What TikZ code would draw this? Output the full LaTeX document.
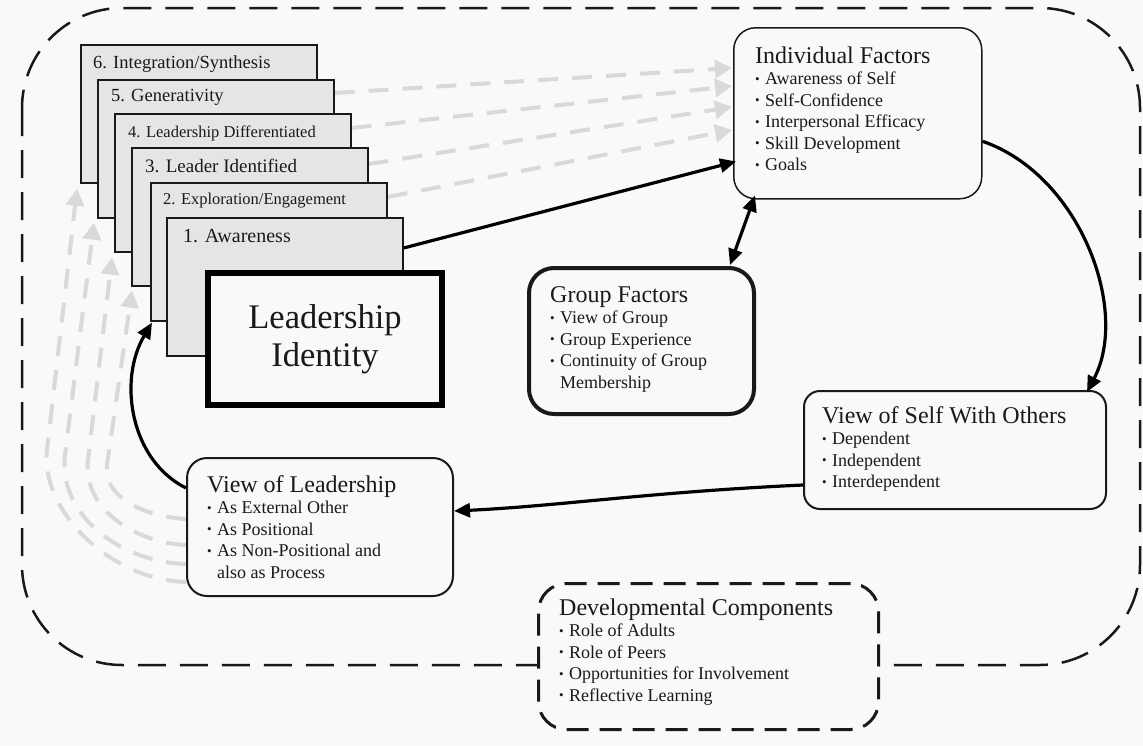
\documentclass[tikz,border=0pt]{standalone}
\usepackage{fontspec}
\setmainfont{Liberation Serif}
\usetikzlibrary{arrows.meta,calc,backgrounds}

\definecolor{paper}{gray}{0.975}
\definecolor{cardfill}{gray}{0.9}
\definecolor{ghostc}{gray}{0.85}
\definecolor{ink}{gray}{0.1}

% small raised bullet and matching hanging indent
\newcommand\bul{\makebox[10pt][l]{\raisebox{1.5pt}{\fontsize{13}{13}\selectfont •}}}
\newcommand\cont{\hspace*{10pt}}
\newcommand\ttl[1]{{\fontsize{24}{21.5}\selectfont #1}}

\begin{document}
\begin{tikzpicture}[x=1pt,y=-1pt,
  card/.style={draw=ink, line width=1.6pt, fill=cardfill, minimum width=236pt,
    minimum height=138pt, anchor=north west, inner sep=0pt},
  cardlabel/.style={anchor=base west, inner sep=0pt, text=ink},
  panel/.style={draw=ink, fill=paper, anchor=north west, inner sep=0pt},
  boxtext/.style={anchor=base west, inner sep=0pt, text=ink,
    font=\fontsize{18}{21.5}\selectfont},
  flow/.style={line width=3.2pt, draw=black,
    -{Triangle[length=16pt,width=14pt]}},
  ghost/.style={draw=ghostc, line width=4pt, dash pattern=on 20pt off 14pt,
    -{Triangle[length=17pt,width=18pt,fill=ghostc]}},
  frame/.style={draw=ink, line width=2.5pt, dash pattern=on 28pt off 14pt,
    rounded corners=100pt}
]
\useasboundingbox (0,0) rectangle (1143,745);
\begin{scope}[on background layer]
  \fill[paper] (0,0) rectangle (1143,745);
\end{scope}

% outer dashed frame
\draw[frame] (22,8) rectangle (1140,665);

% stacked stage cards, back to front
\node[card] (c6) at (80,44) {};
\node[cardlabel, font=\fontsize{18.5}{20}\selectfont] (l6) at ($(c6.north west)+(13,24)$) {6. Integration/Synthesis};
\node[card] (c5) at (97,79) {};
\node[cardlabel, font=\fontsize{18.5}{20}\selectfont] (l5) at ($(c5.north west)+(14,22)$) {5. Generativity};
\node[card] (c4) at (114,113) {};
\node[cardlabel, font=\fontsize{16.5}{20}\selectfont] (l4) at ($(c4.north west)+(14,24)$) {4. Leadership Differentiated};
\node[card] (c3) at (131,147) {};
\node[cardlabel, font=\fontsize{19}{20}\selectfont] (l3) at ($(c3.north west)+(14,25)$) {3. Leader Identified};
\node[card] (c2) at (150,182) {};
\node[cardlabel, font=\fontsize{16.5}{20}\selectfont] (l2) at ($(c2.north west)+(13,22)$) {2. Exploration/Engagement};
\node[card] (c1) at (166,217) {};
\node[cardlabel, font=\fontsize{20}{20}\selectfont] (l1) at ($(c1.north west)+(17,25)$) {1. Awareness};

% central identity box
\node[draw=black, line width=6pt, fill=paper, anchor=north west, inner sep=0pt,
  minimum width=234pt, minimum height=132pt, align=center, text=ink,
  font=\fontsize{34.5}{38}\selectfont] (lid) at (205,270) {Leadership\\Identity};

% factor panels
\node[panel, line width=1.5pt, rounded corners=22pt, minimum width=248pt, minimum height=171pt] (indiv) at (733,27) {};
\node[boxtext] (indivtxt) at ($(indiv.north west)+(22,36)$) {\begin{tabular}[t]{@{}l@{}}\ttl{Individual Factors}\\\bul Awareness of Self\\\bul Self-Confidence\\\bul Interpersonal Efficacy\\\bul Skill Development\\\bul Goals\end{tabular}};

\node[panel, line width=4pt, rounded corners=25pt, minimum width=225pt, minimum height=146pt] (group) at (527,266) {};
\node[boxtext] (grouptxt) at ($(group.north west)+(23,36)$) {\begin{tabular}[t]{@{}l@{}}\ttl{Group Factors}\\\bul View of Group\\\bul Group Experience\\\bul Continuity of Group\\\cont Membership\end{tabular}};

\node[panel, line width=2pt, rounded corners=16pt, minimum width=302pt, minimum height=118pt] (vself) at (803,390) {};
\node[boxtext] (vselftxt) at ($(vself.north west)+(19,33)$) {\begin{tabular}[t]{@{}l@{}}\ttl{View of Self With Others}\\\bul Dependent\\\bul Independent\\\bul Interdependent\end{tabular}};

\node[panel, line width=2pt, rounded corners=20pt, minimum width=266pt, minimum height=138pt] (vlead) at (186,457) {};
\node[boxtext] (vleadtxt) at ($(vlead.north west)+(21,35)$) {\begin{tabular}[t]{@{}l@{}}\ttl{View of Leadership}\\\bul As External Other\\\bul As Positional\\\bul As Non-Positional and\\\cont also as Process\end{tabular}};

\node[panel, line width=3pt, dash pattern=on 22pt off 11pt, rounded corners=28pt, minimum width=340pt, minimum height=146pt] (devel) at (537,582) {};
\node[boxtext] (develtxt) at ($(devel.north west)+(22,33)$) {\begin{tabular}[t]{@{}l@{}}\ttl{Developmental Components}\\\bul Role of Adults\\\bul Role of Peers\\\bul Opportunities for Involvement\\\bul Reflective Learning\end{tabular}};

% faint recurring arrows: stages toward individual factors
\begin{scope}[on background layer]
\draw[ghost] ($(c5.north east)+(0,14)$) -- ($(indiv.north west)+(-1,41)$);
\draw[ghost] ($(c4.north east)+(0,15)$) -- ($(indiv.north west)+(-1,59)$);
\draw[ghost] ($(c3.north east)+(0,17)$) -- ($(indiv.north west)+(-1,80)$);
\draw[ghost] ($(c2.north east)+(0,15)$) -- ($(indiv.north west)+(-1,103)$);
% faint recurring arrows: view of leadership back up to later stages
\draw[ghost] ($(vlead.south west)+(0,-15)$) .. controls (110,580) and (40,510) .. (47,450) -- ($(c6.south west)+(-3,5)$);
\draw[ghost] ($(vlead.south west)+(0,-33)$) .. controls (120,562) and (58,515) .. (65,455) -- ($(c5.south west)+(-3,4)$);
\draw[ghost] ($(vlead.south west)+(0,-52)$) .. controls (135,543) and (82,508) .. (88,460) -- ($(c4.south west)+(-2,5)$);
\draw[ghost] ($(vlead.south west)+(0,-78)$) .. controls (150,517) and (103,500) .. (107,465) -- ($(c3.south west)+(1,4)$);
\end{scope}

% main developmental cycle
\draw[flow] ($(c1.north east)+(0,31)$) -- ($(indiv.south west)+(3,-38)$);
\draw[line width=3.2pt, {Triangle[length=16pt,width=14pt]}-{Triangle[length=16pt,width=14pt]}]
  ($(group.north east)+(-26,-1)$) -- ($(indiv.south west)+(22,-4)$);
\draw[flow] ($(indiv.east)+(0,28)$) .. controls (1080,175) and (1130,310) .. ($(vself.north east)+(-20,2)$);
\draw[flow] ($(vself.south west)+(0,-25)$) .. controls (650,492) and (560,506) .. ($(vlead.east)+(0,-16)$);
\draw[flow] ($(vlead.north west)+(0,31)$) .. controls (130,460) and (118,380) .. ($(c2.south west)+(2,1)$);
\end{tikzpicture}
\end{document}
